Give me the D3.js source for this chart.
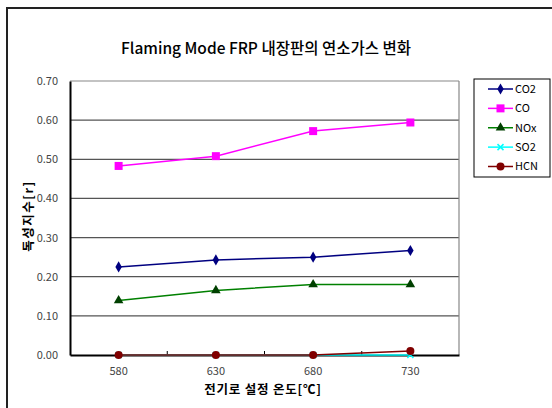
<!DOCTYPE html>
<html>
<head>
<meta charset="utf-8">
<script src="https://cdn.jsdelivr.net/npm/d3@7"></script>
<style>
  html, body { margin: 0; padding: 0; background: #fff; }
  svg { display: block; }
</style>
</head>
<body>
<svg id="chart" width="552" height="408"></svg>
<script>
// Furnace set temperatures (°C)
const categories = ["580", "630", "680", "730"];

// Toxicity index per gas
const co2 = [0.225, 0.243, 0.250, 0.267];
const co  = [0.483, 0.508, 0.572, 0.594];
const nox = [0.139, 0.165, 0.180, 0.180];
const so2 = [0.000, 0.000, 0.000, 0.000];
const hcn = [0.000, 0.000, 0.000, 0.010];

const seriesNames = ["CO2", "CO", "NOx", "SO2", "HCN"];
const yTicks = [0, 0.1, 0.2, 0.3, 0.4, 0.5, 0.6, 0.7];

const series = [
  { name: seriesNames[0], values: co2, line: "#000080", fill: "#000080", marker: "diamond" },
  { name: seriesNames[1], values: co,  line: "#FF00FF", fill: "#FF00FF", marker: "square" },
  { name: seriesNames[2], values: nox, line: "#008000", fill: "#004000", marker: "triangle" },
  { name: seriesNames[3], values: so2, line: "#00FFFF", fill: "#00FFFF", marker: "cross" },
  { name: seriesNames[4], values: hcn, line: "#800000", fill: "#800000", marker: "circle" }
];

const svg = d3.select("#chart");
const font = "'Noto Sans CJK KR', 'Noto Sans', sans-serif";
const plot = { left: 70, top: 81, right: 459, bottom: 355 };

// Outer chart frame
svg.append("rect")
  .attr("x", 7).attr("y", 8).attr("width", 560).attr("height", 420)
  .attr("fill", "none").attr("stroke", "#222").attr("stroke-width", 2);

const x = d3.scaleBand().domain(categories).range([plot.left, plot.right]);
const y = d3.scaleLinear().domain([0, 0.7]).range([plot.bottom, plot.top]);

// Horizontal gridlines
svg.append("g")
  .selectAll("line")
  .data(yTicks.slice(1))
  .join("line")
  .attr("x1", plot.left).attr("x2", plot.right)
  .attr("y1", d => y(d)).attr("y2", d => y(d))
  .attr("stroke", d => d === 0.7 ? "#888" : "#555")
  .attr("stroke-width", 1.2);

// Right frame of the plot area
svg.append("line")
  .attr("x1", plot.right).attr("x2", plot.right)
  .attr("y1", plot.top).attr("y2", plot.bottom)
  .attr("stroke", "#888").attr("stroke-width", 1.2);

// Y axis
const yAxis = d3.axisLeft(y).tickValues(yTicks).tickFormat(d3.format(".2f")).tickSize(0).tickPadding(12);
const gy = svg.append("g").attr("transform", `translate(${plot.left},0)`).call(yAxis);
gy.select(".domain").attr("stroke", "#000").attr("stroke-width", 2);
gy.selectAll("text").attr("font-family", font).attr("font-size", 11).attr("fill", "#444");

// X axis
const xAxis = d3.axisBottom(x).tickSize(0).tickPadding(12);
const gx = svg.append("g").attr("transform", `translate(0,${plot.bottom})`).call(xAxis);
gx.select(".domain").attr("stroke", "#000").attr("stroke-width", 2);
gx.selectAll("text").attr("font-family", font).attr("font-size", 11).attr("fill", "#444");

// Category boundary tick marks (inward)
svg.append("g")
  .selectAll("line")
  .data(categories.slice(1))
  .join("line")
  .attr("x1", d => x(d)).attr("x2", d => x(d))
  .attr("y1", plot.bottom).attr("y2", plot.bottom - 4)
  .attr("stroke", "#000").attr("stroke-width", 1);

// Marker shapes
function drawMarker(g, type, color, cx, cy) {
  if (type === "diamond") {
    g.append("path").attr("d", d3.symbol(d3.symbolDiamond, 36)()).attr("transform", `translate(${cx},${cy})`).attr("fill", color);
  } else if (type === "square") {
    g.append("rect").attr("x", cx - 4).attr("y", cy - 4).attr("width", 8).attr("height", 8).attr("fill", color);
  } else if (type === "triangle") {
    g.append("path").attr("d", d3.symbol(d3.symbolTriangle, 40)()).attr("transform", `translate(${cx},${cy})`).attr("fill", color);
  } else if (type === "cross") {
    g.append("path").attr("d", `M${cx-3},${cy-3}L${cx+3},${cy+3}M${cx-3},${cy+3}L${cx+3},${cy-3}`)
      .attr("stroke", color).attr("stroke-width", 1.5).attr("fill", "none");
  } else if (type === "circle") {
    g.append("circle").attr("cx", cx).attr("cy", cy).attr("r", 4).attr("fill", color);
  }
}

const cx = d => x(d) + x.bandwidth() / 2;
const line = d3.line().x((d, i) => cx(categories[i])).y(d => y(d));

series.forEach(s => {
  const g = svg.append("g");
  g.append("path").datum(s.values)
    .attr("d", line).attr("fill", "none")
    .attr("stroke", s.line).attr("stroke-width", 1.5);
  s.values.forEach((v, i) => drawMarker(g, s.marker, s.fill, cx(categories[i]), y(v)));
});

// Title
svg.append("text")
  .attr("x", 266).attr("y", 54)
  .attr("text-anchor", "middle")
  .attr("font-family", font).attr("font-size", 15.5).attr("font-weight", 500).attr("fill", "#000")
  .text("Flaming Mode FRP 내장판의 연소가스 변화");

// Axis titles
svg.append("text")
  .attr("x", 263).attr("y", 394)
  .attr("text-anchor", "middle")
  .attr("font-family", font).attr("font-size", 12.5).attr("font-weight", "bold")
  .attr("letter-spacing", 0.8)
  .text("전기로 설정 온도[℃]");

svg.append("text")
  .attr("transform", "translate(33,216) rotate(-90)")
  .attr("text-anchor", "middle")
  .attr("font-family", font).attr("font-size", 12.5).attr("font-weight", "bold")
  .attr("letter-spacing", 1.5)
  .text("독성지수[r]");

// Legend
const legend = svg.append("g");
legend.append("rect")
  .attr("x", 474).attr("y", 79).attr("width", 76).attr("height", 98)
  .attr("fill", "#fff").attr("stroke", "#000").attr("stroke-width", 1);
const ly = d3.scalePoint().domain(seriesNames).range([89, 166.5]);
series.forEach(s => {
  const yy = ly(s.name);
  legend.append("line").attr("x1", 488).attr("x2", 513).attr("y1", yy).attr("y2", yy)
    .attr("stroke", s.line).attr("stroke-width", 1.5);
  drawMarker(legend, s.marker, s.fill, 500.5, yy);
  legend.append("text").attr("x", 515).attr("y", yy).attr("dy", "0.35em")
    .attr("font-family", font).attr("font-size", 11).attr("fill", "#000")
    .text(s.name);
});
</script>
</body>
</html>
